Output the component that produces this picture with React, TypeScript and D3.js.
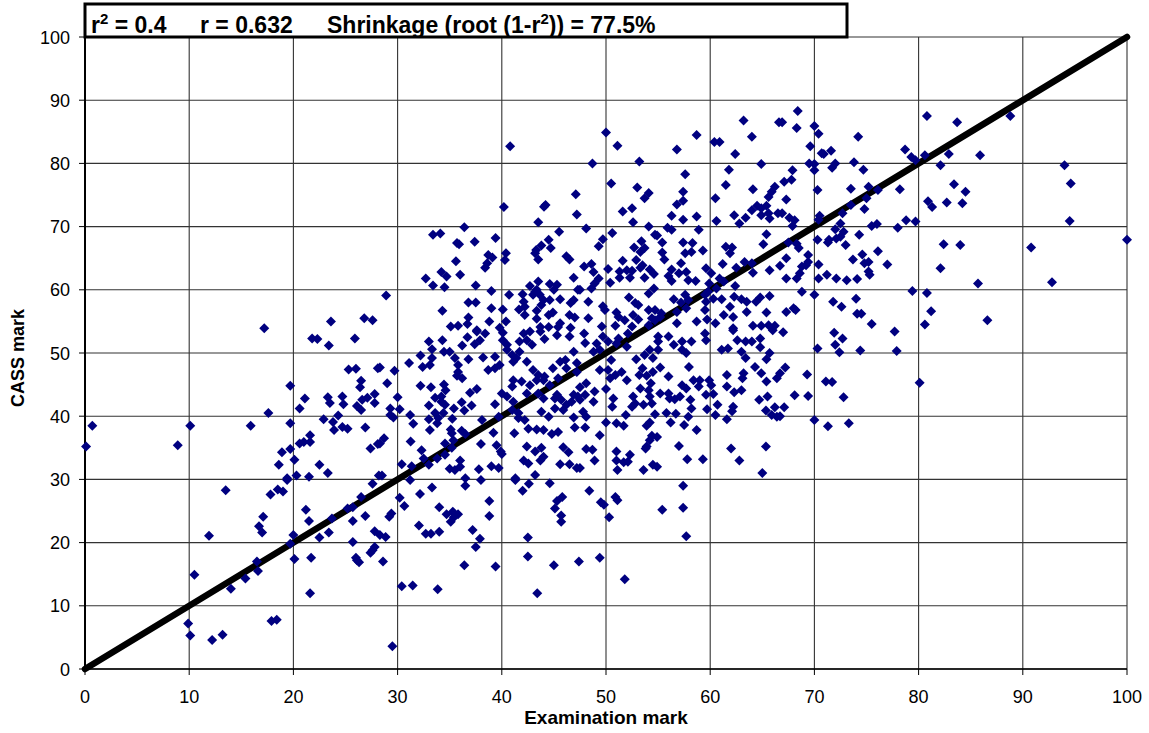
import React from "react";
import * as d3 from "d3";

const xTicks = [0, 10, 20, 30, 40, 50, 60, 70, 80, 90, 100];
const yTicks = [0, 10, 20, 30, 40, 50, 60, 70, 80, 90, 100];
const diagonal = [[0, 0], [100, 100]];

// [examination mark, CASS mark]
const examBelow28 = [
  [0.1,35.2],[0.7,38.5],[8.9,35.4],[10.1,38.5],[9.9,7.2],[10.1,5.3],[10.5,14.9],[11.9,21.1],[12.2,4.6],[13.2,5.4],
  [13.5,28.3],[14,12.7],[15.4,14.3],[15.9,38.5],[16.6,15.5],[16.5,17],[17,21.6],[16.7,22.6],[17.1,24.1],[17.8,27.6],
  [18.5,28.4],[19,28.1],[19.4,29.9],[17.9,7.6],[18.4,7.8],[19.7,19.8],[20,21.2],[20.1,17.4],[21.7,17.6],[21.6,12],
  [21.2,25.2],[21.5,23.4],[23.7,23.8],[22.5,20.8],[23.4,21.6],[25.2,25.4],[25.7,25.6],[26.5,27.2],[27.6,29.3],[26.9,24.2],
  [25.7,23.4],[25.7,20.1],[26,17.6],[26.3,16.9],[26.1,17.2],[27.8,21.8],[27.8,19.3],[27.4,18.4],[27.6,18.8],[17.2,53.9],
  [17.6,40.5],[19.7,38.9],[19.7,44.8],[21.1,42.8],[20.6,41.2],[23.4,51.2],[21.8,52.3],[22.3,52.2],[23.6,55],[25.9,52.3],
  [26.8,55.5],[27.6,55.2],[25.3,47.4],[26,47.5],[26.5,45.6],[26.4,44.6],[27.8,43.5],[27.1,42.9],[26.6,42.6],[27.8,42.1],
  [26.1,41.6],[26.5,41],[23.3,43],[23.5,42.1],[24.7,43.1],[24.8,41.9],[24.3,40.1],[22.9,39.5],[23.8,39.1],[23.9,37.8],
  [24.7,38.3],[25.2,38],[26.9,38.2],[21.6,37],[21.6,35.9],[21,35.9],[20.6,35.7],[19.7,34.8],[18.9,34.3],[20.1,33.1],
  [18.6,32.3],[22.5,32.3],[23.3,31],[20.3,30.6],[21.5,30.4],[19.4,30.2],[27.4,34.9],[28.1,35.6],[28.2,30.6],[28.1,47.6],
];

const exam28to47 = [
  [47.1,75.1],[40.2,73.1],[44.2,73.4],[44.05,73.15],[47.2,71.9],[43.5,70.7],[36.4,69.9],[33.4,68.7],[34.1,68.9],[45.5,69.2],
  [39.4,68.2],[37.4,67.6],[35.7,67.4],[35.9,67.2],[44.5,67.9],[44.7,66.6],[43.8,67],[43.3,66.3],[43.2,65.8],[43.5,64.8],
  [40.4,65.8],[40.3,64.7],[38.7,65.5],[39.1,65.1],[38.6,64.2],[38.4,63.5],[35.6,64.5],[46.2,65.3],[46.5,64.8],[34.2,62.8],
  [34.7,62.1],[36,62.4],[32.7,61.8],[33.4,60.7],[34.5,60.4],[37.5,60.7],[39,59.8],[40.7,59.2],[28.9,59.1],[42,59.3],
  [46.9,61.9],[43.5,61.3],[42.7,60.6],[44.6,60.9],[45.3,60.8],[45,60],[43.2,59.7],[43.35,60],[43.65,59.2],[43,59.2],
  [44,58.4],[44.6,58.4],[43.8,57.6],[45.6,58.5],[46.9,58.4],[46.6,57.9],[47.3,60],[36.8,58],[37.5,58],[42.1,58.1],
  [42.2,57.3],[41.65,56.9],[39,57.1],[40.1,56.9],[34.3,56.7],[42.2,56],[43.35,56.7],[43.35,55.4],[44.5,56],[44.9,56.4],
  [46.5,56],[47,55.6],[36.8,55.6],[36.7,54.6],[38.8,55],[40.4,55],[45.6,54.7],[35.1,54.2],[35.8,54.3],[37.6,53.6],
  [39.8,54],[43.7,54.1],[44.5,54.1],[45.4,54.1],[46.6,54],[40.8,82.7],
  [33,51.8],[34.3,52],[36.7,52.5],[37.6,53.4],[38.4,53.1],[36.2,51.2],[37.4,51.4],[37.9,52],[33.3,50.6],[32.2,49.6],
  [34.45,50.2],[35,50.2],[35.5,49.2],[35.8,48.1],[36.8,49],[33.3,49.2],[33.1,48.1],[32.4,47.8],[31.1,48.4],[29.7,47.2],
  [28.3,47.7],[35.8,47],[35.7,46.4],[36.2,46],[29,45.2],[32.2,44.8],[33.2,44.6],[34.45,45],[34.6,44.1],[36.95,43.7],
  [37.6,44.3],[33.6,42.9],[34.2,43.1],[34.2,42.3],[34.55,41.8],[30,43],[36.15,42.2],[35.4,41.2],[37.1,41.7],[36.4,40.9],
  [33,41.7],[29.3,41.2],[30.2,41.1],[29.6,39.8],[29.3,40.2],[31.2,40.2],[33.6,40.5],[34.4,40.5],[33.9,39.7],[33,39.5],
  [33.8,38.9],[35.25,39.6],[31.5,38.8],[33.1,37.8],[35.1,37.9],[35.2,37.3],[36.15,37.7],[36.5,37.2],[28.7,36.5],[28.3,35.7],
  [31.25,36],[35.35,36.2],[34.55,35.7],[35.2,35],[38,35.6],[32.3,34.6],[39.2,37.4],[38.1,39.4],[39.35,41.9],[39.7,39.9],
  [41.1,42.3],[41,41],[41.6,40.5],[42.2,39.4],[41.6,39.7],[40,43.6],[40.5,43.1],[41.2,37.3],[39.5,35.4],[39.9,34.4],
  [40,34],[42.4,35.2],[43.2,34.4],[43.8,35],[44,33.6],[43.7,33],[42.1,33],[42.55,32.5],[45.6,32.4],[46.5,32.4],
  [47.2,31.8],[45.9,35.1],[46.4,34.3],[47,38.2],[45.4,37.5],[44.8,37.2],[44,37.8],[43.35,37.9],[42.55,38],[44.5,39.9],
  [43.8,40.7],[45.1,41.2],[45.9,41],[45.3,43.4],[45.7,42.6],[45.1,42.8],[44,42.8],[43.5,43.6],[46.9,43.4],[46.7,42.3],
  [47.3,43.1],[46.2,41.8],[46.9,39.8],[42.4,43.6],[42.7,44.9],[41.1,45.7],[41.9,45.5],[41,44.7],[44.6,44.9],[44,45.7],
  [43.35,45.7],[43,47.3],[43.5,46.5],[44.1,46.3],[45.4,46],[46.1,48.9],[45.6,48.6],[46.9,50.2],[47.2,48.4],[44.9,47.6],
  [46.2,47.6],[47.2,47],[44.1,52.2],[42.9,51.3],[42.4,52],[41.7,51.8],[40.1,52],[41,49.7],[40.5,50.5],[41.1,48.6],
  [41.4,49.2],[41.7,50.2],[39.35,49.4],[38.2,49.3],[38.7,47.3],[39.35,47.6],[39.8,48.1],[42.4,48.6],[40.5,51.3],[42.1,53.1],
  [40.1,53.2],[42.7,53.4],[43.7,53.4],[45.3,52.8],[46.5,52.6],
  [28.5,30.6],[36.5,30.2],[37.8,31.6],[39,32.1],[39.7,31.8],[41.3,30.2],[43.2,30.7],[30.4,32.4],[31.35,32.1],[32.5,33.3],
  [33,32.3],[33.8,33.3],[34.55,33.9],[35,31.7],[35.5,31.5],[36,33],[36,32],
  [30.2,27.1],[30.65,25.8],[32.15,27.7],[33.3,28.7],[31.2,29.9],[29.4,24.6],[29.2,24.1],[34,25.6],[34.7,24.5],[35.3,24.9],
  [35.8,24.5],[35.4,24],[35.1,23.3],[32.05,22.7],[32.7,21.4],[33.2,21.4],[34,21.7],[28.3,21.2],[28.85,20.9],[38.8,26.6],
  [38.8,24.2],[36.5,29],[38,29.9],[37.2,22],[37.9,20.6],[37.5,19.3],[36.4,16.4],[39.4,16.2],[28.6,17],[30.4,13.1],
  [31.45,13.2],[33.85,12.6],[42.5,20.8],[42.5,17.8],[45,16.4],[43.4,12],[47.4,17],[41.3,29.9],[42.6,29.3],[42,28.2],
  [44.6,29.4],[45.8,27.2],[45.3,26.6],[45.1,25.4],[45.7,24.3],[45.7,23.3],[29.5,3.6],
];

const exam47to67Upper = [
  [50,84.9],[51.1,82.8],[56.8,82.2],[58.7,84.5],[53.2,80.3],[48.7,80],[57.6,78.3],[60.4,83.4],[60.9,83.4],[62.4,81.5],
  [63.2,86.8],[64,84.2],[64.9,79.9],[61.8,79],[66.6,86.5],
  [50.5,76.8],[53,76.2],[54.1,75.3],[53.7,74.5],[57.4,75.5],[57.4,74.1],[56.8,73.5],[61.5,76.6],[60.5,74.5],[64.1,75.9],
  [66.2,76.3],[65.9,75.5],[65.6,74.7],[52.5,72.9],[51.6,72.4],[56.3,71.7],[57.4,71.1],[58.7,71.6],[52.6,70.7],[60.6,70.9],
  [62.3,71.8],[62.8,70.5],[63.4,71.4],[64,72.6],[64.5,73.3],[65.4,73.3],[64.9,72.9],[64.9,71.8],[65.7,71.3],[65.6,72.1],
  [66.5,72.1],[48.1,69.7],[50.6,69],[49.7,68],[49.3,66.9],[54.1,70],[54.7,68.7],[54.9,68.6],[55.9,69.8],[56.3,69.5],
  [58.9,69.5],[53.4,67.7],[55.4,67.5],[57.4,67.5],[58.3,67.4],[52.7,66.7],[53.7,66.6],[53.3,66],[57.6,65.8],[58.2,66],
  [55.4,65.9],[55.6,64.8],[59.3,66.2],[65.4,68.8],[65.1,67.2],[61.5,66.8],[62.1,66.7],[61.9,65.8],[51.6,64.6],[52.9,64.7],
  [53.5,63.9],[53.3,63.5],[57.2,64.2],[61.2,64.1],[63.3,64.4],[64,64.2],[64.1,62.7],[62.5,63.5],[65.7,63.1],[47.9,63.7],
  [48.6,64.1],[48.8,62.8],[50.2,63.3],[51.3,62.9],[51.3,61.9],[52,63.1],[52.5,63],[52.3,61.9],[54.2,63.2],[54.6,62.5],
  [53.7,61.9],[56.3,63.2],[56,62.2],[56.3,61.4],[57,62.6],[57.7,62.8],[57.9,61.5],[58.6,61.4],[59.6,63.4],[60.1,62.6],
  [60.9,61.8],[61.3,61.3],[59.9,61],[62.4,60.6],[49.3,61.8],[48.9,61],[48.6,60.2],[50.4,61.1],[47.5,60],[54.6,60.2],
  [54.1,59.4],[52.2,58.8],[52.8,57.9],[53.1,57.6],[48.3,58.1],[49.7,57.4],[49.9,56.8],[51,56.4],[51.2,55.7],[48.3,55.5],
  [52.6,56],[53.1,55.3],[51.8,55.2],[54.1,56.8],[54.7,56.8],[55.3,56.3],[54.4,55.5],[54.7,55.2],[54.1,54.4],[55.2,55.7],
  [56.5,58.5],[57.6,59.2],[57.9,58.4],[57.7,57.1],[57.2,58],[56.8,56.5],[56.8,54.7],[59.5,59.2],[59.8,59.7],[59.6,58.1],
  [59.5,56.8],[59.7,55.3],[58.7,55],[60.6,60.2],[60.3,58.6],[61.1,58.5],[60.5,54.7],[62.3,58.9],[63,58.5],[63.5,58.1],
  [64.4,58.1],[64.8,58.8],[65.7,59],[61.9,57.3],[61.3,56],[62.2,55.7],[63.5,56.5],[65.4,56.4],[62.2,53.9],[64.1,54.3],
  [64.9,54.3],[65.6,54.4],[66.2,54.3],[49.6,54.2],[50.9,54.3],[52.5,54.2],
];

const exam47to67Lower = [
  [48,51.6],[47.9,53.1],[49.7,52.6],[50.2,51.8],[49.1,51.5],[48.8,50.2],[49.4,50.5],[51.2,52.3],[52.1,53.1],[52,51],
  [51,51.5],[55,52.6],[55,51.8],[56,52.6],[56.5,51.3],[57.3,51.8],[57.3,50.5],[58.2,51.8],[57.7,50],[59.5,53.1],
  [59.6,52],[62.2,53.6],[62.6,52],[63.4,51.8],[64,51.8],[64.8,52.3],[64.8,50.9],[66,53.6],[61.1,50.5],[61.7,50.7],
  [63,50.2],[63.4,49.2],[65.7,50],[65.4,49],[54.2,50.5],[55,50.5],[53.7,49.7],[52.9,49],[54.5,49.2],[50.5,48.9],
  [57.96,47.8],[64.3,47.8],[53.5,47.6],[55.2,47.7],[53.2,46.5],[53.9,46.4],[54.5,47],[56,46.3],[49.4,47.3],[50.2,47.3],
  [51.5,47],[50.4,46],[50.9,46.5],[52,45.7],[61.6,46.5],[63.2,46.8],[63.1,46],[64.9,46.8],[65.4,45.5],[66.4,46],
  [58.4,45.7],[59,45.7],[58.9,44.7],[59.9,45.7],[60.1,44.9],[57.3,44.9],[57.7,44.4],[61.6,44.7],[62.3,43.8],[63,44.1],
  [54.3,45.2],[53.3,44.4],[54.1,44.1],[48.1,45.2],[48.9,43.9],[47.5,44.6],[48,43.4],[47.5,42.6],[50,44.3],[50.7,42.8],
  [48.8,42.3],[50.6,41.5],[55.2,43.6],[56,43.6],[54.2,43.1],[54.4,42],[52.6,43.1],[52.8,42],[52.5,41.5],[53.6,41.8],
  [56.1,42.8],[56.6,42.7],[57.1,43.1],[59.6,43.4],[60.3,43.5],[58.1,42.6],[58.2,41.2],[60.7,41.8],[59.7,41.1],[64.7,42.6],
  [65.5,43.1],[62.2,41.5],[62.1,40.8],[66.2,41.4],[65.35,40.9],[65.9,40.2],[66.4,39.9],[47.8,40.7],[48.1,39.9],[54.7,40.3],
  [55.8,40.5],[56.7,40.4],[57.9,39.9],[60.5,40.2],[61.6,39.5],[51.9,40.2],[50,39],[51,38.9],[51.7,38.5],[48,38.2],
  [56.2,39],[54.2,39],[53.9,38.5],[57.5,38.6],[58.7,37.8],[49.4,37],[54.4,36.9],[54.9,36.7],[54.2,36.2],[53.9,35.2],
  [53.8,34.9],[57,35.3],[48.1,34.8],[48.7,34.7],[62,34.9],[65.35,35.2],[52.3,33.9],[51,34.4],[48.9,33],[51,33],
  [51.7,32.7],[52.1,32.8],[57.8,33.2],[59.3,33.2],[62.8,33],[51.1,31.5],[53.6,31.5],[54.5,32.3],[54.9,32],[65,31],
  [47.5,31.8],[49.4,17.6],[51.8,14.2],[49.5,26.4],[49.8,26],[50.3,24],[48.4,28.2],[50.9,27.2],[51.1,26.7],[57.7,21],
  [57.4,25.5],[55.4,25.2],[57.4,29],
];

const examAbove67 = [
  [68.4,88.3],[66.9,86.5],[68.3,85.6],[70,85.9],[70.4,84.7],[74.2,84.2],[80.8,87.5],[83.7,86.5],[69.6,82.7],[70.7,81.6],
  [70.9,81.5],[71.6,82],[78.7,82.2],[79.3,81],[79.7,80.5],[80.6,81.3],[82.9,81.5],[85.9,81.3],[69.5,80],[70,79.9],
  [70,78.9],[72,80],[71.7,79.3],[73.8,80.2],[74.7,79],[82.1,79.7],[67.9,78.9],[67.8,77.4],[67.1,77.1],[70.3,75.8],
  [73.5,76],[75.2,76.3],[76.1,75.8],[78.2,75.9],[75,74.5],[83.4,76.7],[84.5,75.5],[67.3,74.3],[80.9,74],[81.3,73.1],
  [82.7,73.8],[84.2,73.7],[74.8,72.8],[73.5,73.4],[72.7,72.1],[66.9,72.1],[67.6,71.4],[68.1,71],[67.9,70.1],[70.5,71.7],
  [70.4,71.1],[72.5,70.5],[72,69.6],[72.8,69.2],[72.5,68.4],[72.1,68.1],[71.4,67.9],[71.3,67.5],[70.3,67.9],[73,67.1],
  [74.3,68.7],[75.5,70.1],[76,70.4],[78,69.8],[78.8,71],[79.7,70.8],[67.5,67.5],[68.3,67.3],[68.5,66.6],[82.4,67.2],
  [84,67.1],[67.3,65],[69.4,65.5],[69.4,64.4],[68.8,63.7],[69.2,63.9],[70.4,64],[66.7,63.8],[68.6,62.6],[68.3,61.8],
  [74.6,65.6],[76.1,66.1],[73.7,64.8],[75.2,64.4],[74.8,64.2],[77,64],[75.2,62.9],[75.3,62.4],[82.1,63.4],[71.2,62.4],
  [72.1,61.8],[74.1,61.7],[73.1,61.5],[70.4,61.8],[67.3,61.8],
  [68.8,59.7],[70,59.2],[71.8,58.1],[72.6,57.3],[74,58.6],[79.4,59.8],[80.8,59.5],[81.2,56.6],[80.6,54.5],[85.7,61],
  [67.3,56.5],[68,57.1],[68.2,56.8],[74.1,56.2],[74.5,56.2],[75.5,54.6],[77.7,53.4],[67,53.3],[71.9,53.2],[72.7,52.3],
  [72,51.3],[70.3,50.7],[72.4,50.1],[74.4,50.4],[77.9,50.3],[67.2,47.7],[66.7,46.8],[69.3,46.6],[71.1,45.5],[71.7,45.4],
  [80.1,45.3],[68.1,43.3],[69.4,43.2],[72.8,43],[67.1,41.4],[70,39.4],[71.3,38.4],[73.3,38.9],[66.7,40],
  [100,67.9],[94,79.7],[94.6,76.8],[94.5,70.9],[90.8,66.7],[92.8,61.2],[88.8,87.5],[86.6,55.2],
];

const allPoints = [...examBelow28, ...exam28to47, ...exam47to67Upper, ...exam47to67Lower, ...examAbove67];

const W = 1149, H = 733;
const left = 85, right = 1127, top = 37, bottom = 669;
const x = d3.scaleLinear().domain([0, 100]).range([left, right]);
const y = d3.scaleLinear().domain([0, 100]).range([bottom, top]);
const lineGen = d3.line<number[]>().x((d) => x(d[0])).y((d) => y(d[1]));
const diamond = d3.symbol().type(d3.symbolSquare).size(50)() as string;
const FONT = "Arial, 'Liberation Sans', sans-serif";

export default function App() {
  return (
    <svg width={W} height={H} style={{ position: "absolute", left: 0, top: 0, background: "#fff" }} fontFamily={FONT}>
      {xTicks.map((t) => (
        <line key={"vg" + t} x1={x(t)} x2={x(t)} y1={top} y2={bottom} stroke="#333" strokeWidth={1.1} />
      ))}
      {yTicks.map((t) => (
        <line key={"hg" + t} x1={left} x2={right} y1={y(t)} y2={y(t)} stroke="#333" strokeWidth={1.1} />
      ))}
      <line x1={left} x2={left} y1={top} y2={bottom} stroke="#000" strokeWidth={2} />
      <line x1={left} x2={right} y1={bottom} y2={bottom} stroke="#000" strokeWidth={1.5} />
      {yTicks.map((t) => (
        <g key={"yt" + t}>
          <line x1={left - 6} x2={left} y1={y(t)} y2={y(t)} stroke="#000" strokeWidth={1} />
          <text x={70} y={y(t) + 6.5} textAnchor="end" fontSize={18} fill="#000">{t}</text>
        </g>
      ))}
      {xTicks.map((t) => (
        <g key={"xt" + t}>
          <line x1={x(t)} x2={x(t)} y1={bottom} y2={bottom + 6} stroke="#000" strokeWidth={1} />
          <text x={x(t)} y={703} textAnchor="middle" fontSize={18} fill="#000">{t}</text>
        </g>
      ))}
      <path d={lineGen(diagonal) as string} fill="none" stroke="#000" strokeWidth={6.5} strokeLinecap="round" />
      {allPoints.map((p, i) => (
        <path key={i} d={diamond} transform={`translate(${x(p[0])},${y(p[1])}) rotate(45)`} fill="#000080" />
      ))}
      <rect x={85} y={4} width={762} height={33} fill="#fff" stroke="#000" strokeWidth={3} />
      <text x={91} y={33} fontSize={23} fontWeight="bold" fill="#000">
        r<tspan dy={-9} fontSize={15}>2</tspan><tspan dy={9}> = 0.4</tspan>
      </text>
      <text x={200} y={33} fontSize={23} fontWeight="bold" fill="#000">r = 0.632</text>
      <text x={327} y={33} fontSize={23} fontWeight="bold" fill="#000">
        Shrinkage (root (1-r<tspan dy={-9} fontSize={15}>2</tspan><tspan dy={9}>)) = 77.5%</tspan>
      </text>
      <text x={606} y={724} textAnchor="middle" fontSize={19} fontWeight="bold" fill="#000">Examination mark</text>
      <text transform="translate(24,358) rotate(-90)" textAnchor="middle" fontSize={18} fontWeight="bold" fill="#000">CASS mark</text>
    </svg>
  );
}
